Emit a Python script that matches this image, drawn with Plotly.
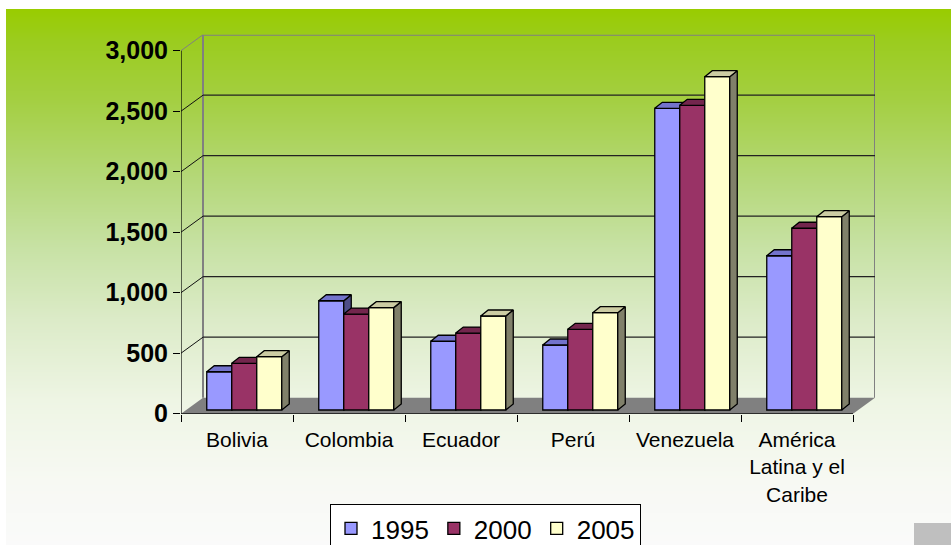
import base64
import struct
import zlib

import plotly.graph_objects as go

# ---------------- data ----------------
CATEGORIES = ["Bolivia", "Colombia", "Ecuador", "Perú", "Venezuela",
              "América<br>Latina y el<br>Caribe"]
YEARS = ["1995", "2000", "2005"]
V1995 = [316, 903, 568, 537, 2493, 1275]
V2000 = [386, 793, 636, 667, 2518, 1502]
V2005 = [441, 846, 777, 804, 2755, 1598]
Y_TICKS = [0, 500, 1000, 1500, 2000, 2500, 3000]
Y_TICK_TEXT = ["0", "500", "1,000", "1,500", "2,000", "2,500", "3,000"]
SERIES = [V1995, V2000, V2005]

# ---------------- styles / geometry ----------------
FRONT = ["#9999FF", "#993366", "#FFFFCC"]
TOP = ["#7373CC", "#73264D", "#CCCCA3"]
SIDE = ["#4D4D88", "#4D1A33", "#80806A"]
EDGE = dict(color="black", width=1.3)

W, H = 951, 545
PX_CAT = 112.0           # pixels per category
PX_VAL = 363.0 / 3000.0  # pixels per value unit
LEFT_PX, BOTTOM_PX = 181.0, 413.7
WALL_DX_PX, WALL_DY_PX = 22.0, 16.0
WX = WALL_DX_PX / PX_CAT
WY = WALL_DY_PX / PX_VAL
BDX = 7.5 / PX_CAT       # bar depth (x)
BDY = 6.0 / PX_VAL       # bar depth (y)
BASE = 3.7 / PX_VAL      # bars sit slightly behind the front edge
BW = 25.0 / PX_CAT       # bar width
OFF0 = -0.27             # left edge of first bar relative to category centre
YMAX = 3000

XR = [-0.5, 5.5 + WX]
YR = [0, YMAX + WY]
x_dom = [LEFT_PX / W, (LEFT_PX + PX_CAT * (XR[1] - XR[0])) / W]
top_px = BOTTOM_PX - PX_VAL * YR[1]
y_dom = [(H - BOTTOM_PX) / H, (H - top_px) / H]


# ---------------- background gradient as PNG ----------------
def gradient_png(stops, y0, y1):
    rows = []
    for y in range(y0, y1):
        for (ya, ca), (yb, cb) in zip(stops[:-1], stops[1:]):
            if ya <= y <= yb:
                t = (y - ya) / (yb - ya) if yb > ya else 0
                rows.append(tuple(int(round(a + (b - a) * t)) for a, b in zip(ca, cb)))
                break
        else:
            rows.append(stops[-1][1])
    raw = b"".join(b"\x00" + bytes(c) for c in rows)

    def chunk(tag, data):
        return (struct.pack(">I", len(data)) + tag + data
                + struct.pack(">I", zlib.crc32(tag + data) & 0xFFFFFFFF))

    png = (b"\x89PNG\r\n\x1a\n"
           + chunk(b"IHDR", struct.pack(">IIBBBBB", 1, len(rows), 8, 2, 0, 0, 0))
           + chunk(b"IDAT", zlib.compress(raw))
           + chunk(b"IEND", b""))
    return "data:image/png;base64," + base64.b64encode(png).decode()


GRAD = [(9, (153, 204, 0)), (40, (155, 204, 30)), (100, (164, 207, 66)),
        (180, (181, 216, 122)), (250, (200, 226, 166)), (320, (220, 235, 200)),
        (400, (238, 245, 228)), (480, (247, 249, 243)), (545, (250, 250, 250))]
BG_TOP, BG_LEFT = 9, 6

fig = go.Figure()

# ---------------- bars with 3-D faces ----------------
for k, (name, vals) in enumerate(zip(YEARS, SERIES)):
    xa = "x" if k == 0 else f"x{k + 1}"
    ya = "y" if k == 0 else f"y{k + 1}"
    off = OFF0 + k * BW
    fig.add_trace(go.Bar(
        x=list(range(len(CATEGORIES))), y=vals, base=BASE, offset=off, width=BW,
        marker=dict(color=FRONT[k], line=EDGE), name=name,
        xaxis=xa, yaxis=ya, hoverinfo="name+y",
    ))
    tx, ty, sx, sy = [], [], [], []
    for i, v in enumerate(vals):
        x0 = i + off
        x1 = x0 + BW
        yt = BASE + v
        tx += [x0, x0 + BDX, x1 + BDX, x1, x0, None]
        ty += [yt, yt + BDY, yt + BDY, yt, yt, None]
        sx += [x1, x1 + BDX, x1 + BDX, x1, x1, None]
        sy += [BASE, BASE + BDY, yt + BDY, yt, BASE, None]
    fig.add_trace(go.Scatter(x=sx, y=sy, mode="lines", fill="toself",
                             fillcolor=SIDE[k], line=EDGE, showlegend=False,
                             hoverinfo="skip", xaxis=xa, yaxis=ya))
    fig.add_trace(go.Scatter(x=tx, y=ty, mode="lines", fill="toself",
                             fillcolor=TOP[k], line=EDGE, showlegend=False,
                             hoverinfo="skip", xaxis=xa, yaxis=ya))

# ---------------- walls / floor / axes lines ----------------
shapes = []
L, R = -0.5, 5.5
shapes.append(dict(type="path", xref="x", yref="y", layer="below",
                   path=f"M{L},0 L{R},0 L{R + WX},{WY} L{L + WX},{WY} Z",
                   fillcolor="#808080", line=dict(width=0)))
shapes.append(dict(type="path", xref="x", yref="y", layer="below",
                   path=(f"M{L + WX},{WY} L{L + WX},{YMAX + WY} "
                         f"L{R + WX},{YMAX + WY} L{R + WX},{WY}"),
                   line=dict(color="#808080", width=2)))
for v in Y_TICKS[1:-1]:
    shapes.append(dict(type="line", xref="x", yref="y", layer="below",
                       x0=L + WX, x1=R + WX, y0=v + WY, y1=v + WY,
                       line=dict(color="#222222", width=1.2)))
for v in Y_TICKS[1:]:
    shapes.append(dict(type="line", xref="x", yref="y", layer="below",
                       x0=L, x1=L + WX, y0=v, y1=v + WY,
                       line=dict(color="#808080" if v == YMAX else "#111111", width=1)))
shapes.append(dict(type="line", xref="x", yref="y", layer="below",
                   x0=L, x1=L, y0=0, y1=YMAX, line=dict(color="black", width=1.2)))
shapes.append(dict(type="line", xref="x", yref="y", layer="below",
                   x0=L, x1=R, y0=0, y1=0, line=dict(color="black", width=1.2)))
shapes.append(dict(type="rect", xref="paper", yref="paper", layer="above",
                   x0=914 / W, x1=1, y0=0, y1=(H - 523) / H,
                   fillcolor="#BFBFBF", line=dict(width=0)))

axis_common = dict(range=XR, domain=x_dom, fixedrange=True)
yaxis_common = dict(range=YR, domain=y_dom, fixedrange=True)

fig.update_layout(
    width=W, height=H,
    margin=dict(l=0, r=0, t=0, b=0, autoexpand=False),
    paper_bgcolor="white", plot_bgcolor="rgba(0,0,0,0)",
    barmode="overlay",
    font=dict(family="Liberation Sans, Arial, sans-serif", color="black"),
    xaxis=dict(**axis_common, tickmode="array", tickvals=list(range(len(CATEGORIES))),
               ticktext=CATEGORIES, ticks="outside", ticklen=7,
               tickcolor="rgba(0,0,0,0)", showgrid=False, zeroline=False,
               showline=False, tickfont=dict(size=21),
               minor=dict(tickmode="array", tickvals=[x - 0.5 for x in range(7)],
                          ticks="outside", ticklen=7, tickcolor="black", tickwidth=1.2)),
    yaxis=dict(**yaxis_common, tickmode="array", tickvals=Y_TICKS, ticktext=Y_TICK_TEXT,
               ticks="outside", ticklen=7, tickcolor="black", tickwidth=1.2,
               showgrid=False, zeroline=False, showline=False,
               tickfont=dict(size=25, weight="bold")),
    xaxis2=dict(**axis_common, overlaying="x", visible=False),
    yaxis2=dict(**yaxis_common, overlaying="y", visible=False),
    xaxis3=dict(**axis_common, overlaying="x", visible=False),
    yaxis3=dict(**yaxis_common, overlaying="y", visible=False),
    shapes=shapes,
    images=[dict(source=gradient_png(GRAD, BG_TOP, H), xref="paper", yref="paper",
                 x=BG_LEFT / W, y=(H - BG_TOP) / H, sizex=(W - BG_LEFT) / W,
                 sizey=(H - BG_TOP) / H, xanchor="left", yanchor="top",
                 sizing="stretch", layer="below")],
    legend=dict(orientation="h", x=330 / W, y=(H - 504) / H, xanchor="left",
                yanchor="top", bgcolor="white", bordercolor="black", borderwidth=1,
                font=dict(size=26), traceorder="normal"),
    showlegend=True,
)

fig.write_html(
    "out.html",
    config={"displayModeBar": False},
    post_script="document.body.style.margin='0';document.body.style.overflow='hidden';",
)
